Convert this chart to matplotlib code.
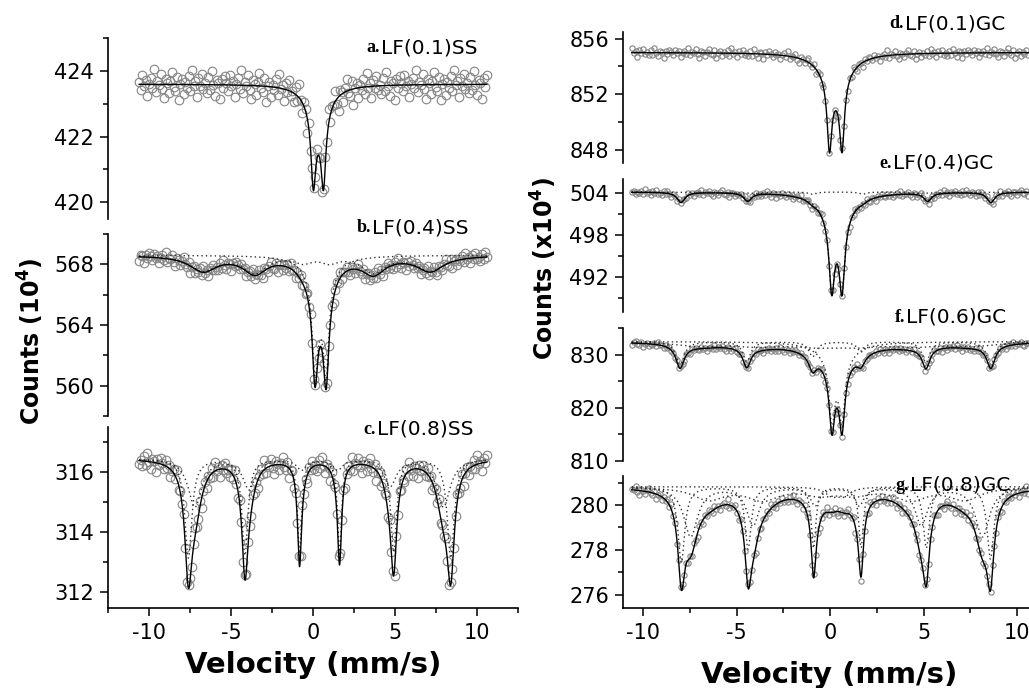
"""
Mossbauer spectra, LF(x) samples: SS series (left column) and GC series (right column).
Each spectrum = open-circle data + solid total fit + dotted sub-spectra.
"""
import numpy as np
import matplotlib
matplotlib.use("Agg")
import matplotlib.pyplot as plt
from matplotlib.ticker import MultipleLocator, FormatStrFormatter

plt.rcParams["font.family"] = ["DejaVu Sans"]

FIG_W, FIG_H = 1029, 688

# ---- velocity channels -------------------------------------------------------
V_MIN, V_MAX = -10.6, 10.6
N_CH = 212

# hand-typed scatter offsets (fraction of the panel's noise), cycled over channels
NOISE = [0.12, -0.35, 0.58, -0.08, 0.27, -0.71, 0.05, 0.41, -0.22, 0.93,
         -0.47, 0.18, -0.03, 0.66, -0.29, -0.85, 0.34, 0.09, -0.55, 0.21,
         0.77, -0.14, -0.38, 0.48, -0.96, 0.02, 0.31, -0.61, 0.15, -0.19,
         0.52, -0.42, 0.87, -0.06, 0.24, -0.74, 0.39, -0.11, 0.63, -0.27,
         0.07, -0.51, 0.44, -0.33, 0.81, -0.02, -0.66, 0.29, 0.11, -0.88,
         0.36, -0.17, 0.55]

# ---- fitted line parameters (position, depth, HWHM) ---------------------------
# a. LF(0.1)SS
A_BASE = 423.6
A_DBL_POS = [0.02, 0.64, 0.33]
A_DBL_DEPTH = [2.1, 2.1, 1.2]
A_DBL_HWHM = [0.17, 0.17, 0.7]

# b. LF(0.4)SS
B_BASE = 568.6
B_DBL_POS = [0.12, 0.80, 0.46]
B_DBL_DEPTH = [5.7, 5.7, 2.6]
B_DBL_HWHM = [0.20, 0.20, 0.7]
B_SXT_POS = [-6.7, -3.55, -0.6, 1.0, 3.68, 7.15]
B_SXT_DEPTH = [1.0, 1.1, 0.4, 0.4, 1.1, 1.0]
B_SXT_HWHM = [1.0, 0.85, 0.6, 0.6, 0.85, 1.0]

# c. LF(0.8)SS
C_BASE = 316.45
C_S1_POS = [-7.6, -4.15, -0.82, 1.62, 4.92, 8.4]
C_S1_DEPTH = [3.3, 3.2, 3.2, 3.15, 3.1, 3.3]
C_S1_HWHM = [0.26, 0.22, 0.15, 0.15, 0.22, 0.26]
C_S2_POS = [-7.2, -3.9, -0.7, 1.5, 4.7, 7.95]
C_S2_DEPTH = [1.6, 1.0, 0.35, 0.35, 0.9, 1.6]
C_S2_HWHM = [0.5, 0.45, 0.35, 0.35, 0.45, 0.5]

# d. LF(0.1)GC
D_BASE = 855.0
D_DBL_POS = [-0.03, 0.64, 0.30]
D_DBL_DEPTH = [4.8, 4.8, 2.6]
D_DBL_HWHM = [0.15, 0.15, 0.8]

# e. LF(0.4)GC
E_BASE = 504.15
E_SXT_POS = [-7.97, -4.4, -0.95, 1.75, 5.22, 8.6]
E_SXT_DEPTH = [1.45, 1.2, 0.3, 0.3, 1.2, 1.45]
E_SXT_HWHM = [0.25, 0.25, 0.25, 0.25, 0.25, 0.25]
E_DBL_POS = [0.09, 0.64, 0.37]
E_DBL_DEPTH = [9.5, 9.5, 5.0]
E_DBL_HWHM = [0.17, 0.17, 0.8]

# f. LF(0.6)GC
F_BASE = 832.45
F_S1_POS = [-8.02, -4.45, -0.93, 1.66, 5.13, 8.6]
F_S1_DEPTH = [4.3, 3.7, 2.8, 1.9, 3.9, 4.3]
F_S1_HWHM = [0.27, 0.25, 0.25, 0.25, 0.25, 0.27]
F_S2_POS = [-7.0, -3.9, -0.8, 1.4, 4.5, 7.6]
F_S2_DEPTH = [0.75, 0.75, 0.75, 0.75, 0.75, 0.75]
F_S2_HWHM = [1.5, 1.5, 1.5, 1.5, 1.5, 1.5]
F_DBL_POS = [0.10, 0.64, 0.37]
F_DBL_DEPTH = [10.7, 10.7, 5.0]
F_DBL_HWHM = [0.17, 0.17, 0.8]

# g. LF(0.8)GC
G_BASE = 280.81
G_S1_POS = [-7.95, -4.38, -0.88, 1.66, 5.15, 8.58]
G_S1_DEPTH = [3.35, 2.75, 2.7, 2.68, 2.7, 3.2]
G_S1_HWHM = [0.22, 0.2, 0.15, 0.15, 0.2, 0.22]
G_S2_POS = [-7.45, -4.12, -0.8, 1.56, 4.88, 8.15]
G_S2_DEPTH = [2.2, 1.7, 0.8, 0.8, 1.7, 2.2]
G_S2_HWHM = [0.45, 0.4, 0.3, 0.3, 0.4, 0.45]
G_S3_POS = [-6.5, -3.6, -0.55, 1.3, 4.3, 7.2]
G_S3_DEPTH = [0.55, 0.55, 0.3, 0.3, 0.55, 0.55]
G_S3_HWHM = [1.0, 1.0, 1.0, 1.0, 1.0, 1.0]
G_DBL_POS = [0.1, 0.75]
G_DBL_DEPTH = [0.35, 0.35]
G_DBL_HWHM = [0.45, 0.45]


def absorption(v, pos, depth, hwhm):
    v = np.asarray(v, dtype=float)[:, None]
    p, d, w = (np.asarray(a, dtype=float) for a in (pos, depth, hwhm))
    return (d / (1.0 + ((v - p) / w) ** 2)).sum(axis=1)


# ---- layout (pixel boxes of the original figure) ------------------------------
LEFT_X = (108, 518, (-12.5, 12.5))
RIGHT_X = (623, 1029, (-11.07, 10.64))

PANELS = [
    # col, (y_top, y_bot), base, components, ylim, major, minor, noise, marker, letter, name, (x_name, y)
    (LEFT_X, (38, 219), A_BASE, [(A_DBL_POS, A_DBL_DEPTH, A_DBL_HWHM)],
     (419.48, 425.01), 2, 1, 0.5, 6.2, "a.", "LF(0.1)SS", (381, 48)),
    (LEFT_X, (234, 416), B_BASE, [(B_DBL_POS, B_DBL_DEPTH, B_DBL_HWHM),
                                  (B_SXT_POS, B_SXT_DEPTH, B_SXT_HWHM)],
     (558.0, 570.0), 4, 2, 0.45, 6.2, "b.", "LF(0.4)SS", (372, 228)),
    (LEFT_X, (427, 608), C_BASE, [(C_S1_POS, C_S1_DEPTH, C_S1_HWHM),
                                  (C_S2_POS, C_S2_DEPTH, C_S2_HWHM)],
     (311.47, 317.5), 2, 1, 0.35, 6.2, "c.", "LF(0.8)SS", (377, 429)),
    (RIGHT_X, (32, 163), D_BASE, [(D_DBL_POS, D_DBL_DEPTH, D_DBL_HWHM)],
     (847.03, 856.47), 4, 2, 0.4, 3.8, "d.", "LF(0.1)GC", (905, 24)),
    (RIGHT_X, (179, 312), E_BASE, [(E_DBL_POS, E_DBL_DEPTH, E_DBL_HWHM),
                                   (E_SXT_POS, E_SXT_DEPTH, E_SXT_HWHM)],
     (487.0, 506.0), 6, 3, 0.5, 3.8, "e.", "LF(0.4)GC", (893, 163)),
    (RIGHT_X, (328, 461), F_BASE, [(F_DBL_POS, F_DBL_DEPTH, F_DBL_HWHM),
                                   (F_S1_POS, F_S1_DEPTH, F_S1_HWHM),
                                   (F_S2_POS, F_S2_DEPTH, F_S2_HWHM)],
     (810.0, 835.0), 10, 5, 0.6, 3.8, "f.", "LF(0.6)GC", (906, 317)),
    (RIGHT_X, (476, 608), G_BASE, [(G_S1_POS, G_S1_DEPTH, G_S1_HWHM),
                                   (G_S2_POS, G_S2_DEPTH, G_S2_HWHM),
                                   (G_S3_POS, G_S3_DEPTH, G_S3_HWHM),
                                   (G_DBL_POS, G_DBL_DEPTH, G_DBL_HWHM)],
     (275.42, 281.29), 2, 1, 0.25, 3.8, "g.", "LF(0.8)GC", (910, 485)),
]

fig = plt.figure(figsize=(FIG_W / 100, FIG_H / 100), dpi=100)

v_data = np.linspace(V_MIN, V_MAX, N_CH)
v_fit = np.linspace(V_MIN, V_MAX, 3000)

for i, (colx, (yt, yb), base, comps, ylim, maj, mnr, noise, msize,
        letter, name, (xn, yl)) in enumerate(PANELS):
    x0, x1, xlim = colx
    ax = fig.add_axes([x0 / FIG_W, 1 - yb / FIG_H, (x1 - x0) / FIG_W, (yb - yt) / FIG_H])
    ax.patch.set_alpha(0)

    total_fit = base - sum(absorption(v_fit, *c) for c in comps)
    total_dat = base - sum(absorption(v_data, *c) for c in comps)
    offs = np.resize(np.roll(NOISE, 7 * i), N_CH) * noise

    ax.plot(v_data, total_dat + offs, "o", ms=msize, mfc="none", mec="#858585", mew=0.8)
    if len(comps) > 1:
        for c in comps:
            ax.plot(v_fit, base - absorption(v_fit, *c), color="#333333",
                    lw=1.0, ls=(0, (1, 2.2)))
    ax.plot(v_fit, total_fit, color="black", lw=1.0)

    ax.set_xlim(*xlim)
    ax.set_ylim(*ylim)
    ax.yaxis.set_major_locator(MultipleLocator(maj))
    ax.yaxis.set_minor_locator(MultipleLocator(mnr))
    ax.yaxis.set_major_formatter(FormatStrFormatter("%d"))
    for s in ("top", "right"):
        ax.spines[s].set_visible(False)
    ax.spines["left"].set_linewidth(1.2)
    ax.tick_params(axis="y", which="major", direction="out", length=6, width=1.1,
                   labelsize=15, pad=4)
    ax.tick_params(axis="y", which="minor", direction="out", length=3.5, width=1.1)

    last = (i == 2) or (i == 6)
    if last:
        ax.spines["bottom"].set_linewidth(1.2)
        ax.xaxis.set_major_locator(MultipleLocator(5))
        ax.xaxis.set_minor_locator(MultipleLocator(2.5))
        ax.xaxis.set_major_formatter(FormatStrFormatter("%d"))
        ax.tick_params(axis="x", which="major", direction="out", length=6, width=1.1,
                       labelsize=15, pad=5)
        ax.tick_params(axis="x", which="minor", direction="out", length=3.5, width=1.1)
    else:
        ax.spines["bottom"].set_visible(False)
        ax.set_xticks([])

    # panel tag: bold serif letter followed by the sample name
    fig.text((xn - 1) / FIG_W, 1 - yl / FIG_H, letter, family="Liberation Serif",
             fontweight="bold", fontsize=13, ha="right", va="center")
    fig.text(xn / FIG_W, 1 - yl / FIG_H, name, fontsize=14.5, ha="left", va="center")

fig.text(31 / FIG_W, 1 - 341 / FIG_H, "Counts (10$^{\\mathbf{4}}$)", rotation=90,
         fontsize=17, fontweight="bold", ha="center", va="center")
fig.text(544 / FIG_W, 1 - 269 / FIG_H, "Counts (x10$^{\\mathbf{4}}$)", rotation=90,
         fontsize=17, fontweight="bold", ha="center", va="center")
fig.text(313 / FIG_W, 1 - 665 / FIG_H, "Velocity (mm/s)", fontsize=21,
         fontweight="bold", ha="center", va="center")
fig.text(829 / FIG_W, 1 - 675 / FIG_H, "Velocity (mm/s)", fontsize=21,
         fontweight="bold", ha="center", va="center")

fig.savefig("out.png", dpi=100)
